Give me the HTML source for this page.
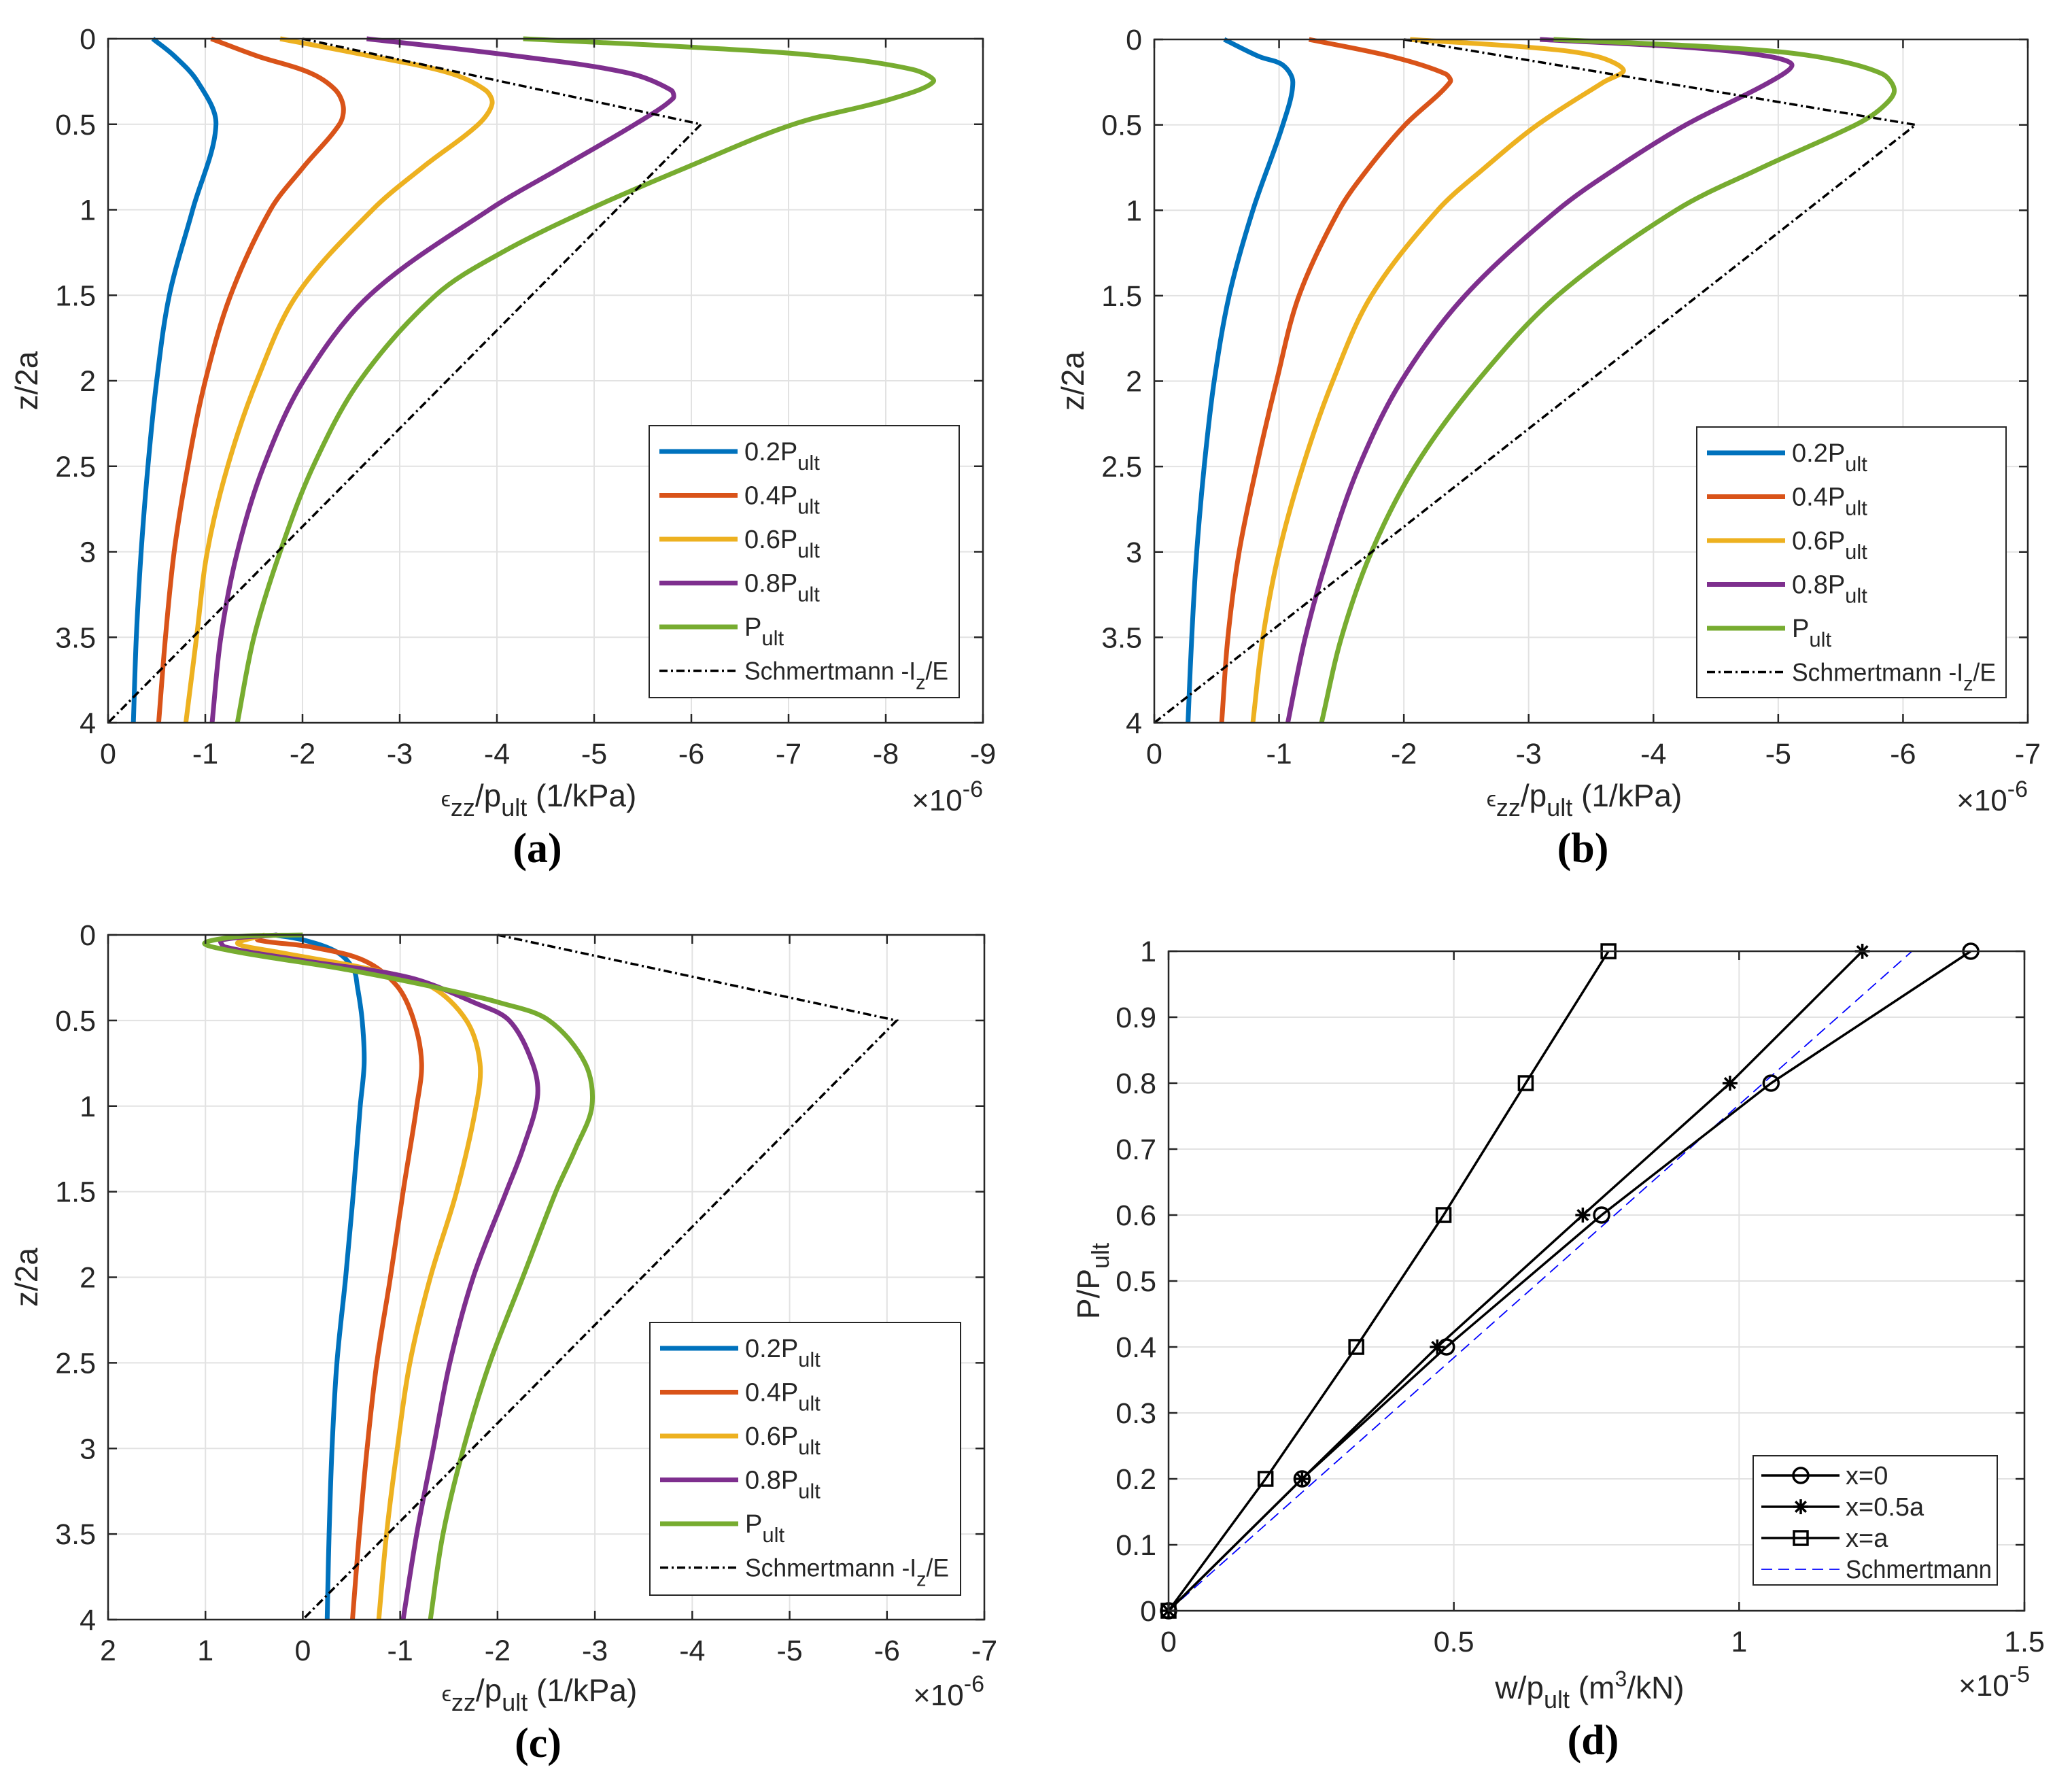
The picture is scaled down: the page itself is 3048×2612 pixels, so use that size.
<!DOCTYPE html>
<html><head><meta charset="utf-8"><style>
html,body{margin:0;padding:0;background:#fff}
svg{display:block}
text{font-family:"Liberation Sans",sans-serif;fill:#262626}
</style></head><body>
<svg id="fig" xmlns="http://www.w3.org/2000/svg" width="3048" height="2612" viewBox="0 0 3048 2612"></svg>
<script>
// ---------- data ----------
const zTicks = [0,0.5,1,1.5,2,2.5,3,3.5,4];
const seriesNames = ["0.2P","0.4P","0.6P","0.8P","P"];
const seriesColors = ["#0072BD","#D95319","#EDB120","#7E2F8E","#77AC30"];
const schmZ = [0,0.5,4];
const schmX = [-2.0,-6.1,0];

// panel a
const aZ = [[0,0.1,0.25,0.5,1,1.5,2,2.5,3,3.5,4],
            [0,0.1,0.2,0.3,0.4,0.5,0.75,1,1.5,2,2.5,3,3.5,4],
            [0,0.1,0.2,0.3,0.38,0.5,0.75,1,1.5,2,2.5,3,3.5,4],
            [0,0.1,0.2,0.3,0.35,0.5,0.75,1,1.5,2,2.5,3,3.5,4],
            [0,0.05,0.1,0.18,0.25,0.35,0.5,0.75,1,1.25,1.5,2,2.5,3,3.5,4]];
const aX = [[-0.46,-0.68,-0.92,-1.11,-0.87,-0.63,-0.50,-0.41,-0.34,-0.29,-0.26],
            [-1.06,-1.53,-2.08,-2.34,-2.42,-2.38,-2.01,-1.67,-1.26,-1.0,-0.82,-0.68,-0.59,-0.52],
            [-1.77,-2.69,-3.51,-3.88,-3.95,-3.81,-3.24,-2.72,-1.94,-1.53,-1.23,-1.02,-0.91,-0.80],
            [-2.66,-4.19,-5.35,-5.79,-5.81,-5.42,-4.67,-3.92,-2.69,-2.01,-1.60,-1.33,-1.16,-1.07],
            [-4.27,-6.03,-7.32,-8.28,-8.49,-8.07,-7.05,-5.96,-4.94,-4.05,-3.37,-2.59,-2.11,-1.77,-1.50,-1.33]];
const aXTicks = [0,-1,-2,-3,-4,-5,-6,-7,-8,-9];

// panel b
const bZ = [[0,0.1,0.15,0.25,0.5,1,1.5,2,2.5,3,3.5,4],
            [0,0.1,0.2,0.25,0.5,0.75,1,1.5,2,2.5,3,3.5,4],
            [0,0.05,0.1,0.18,0.25,0.5,0.75,1,1.5,2,2.5,3,3.5,4],
            [0,0.05,0.1,0.15,0.25,0.5,0.75,1,1.5,2,2.5,3,3.5,4],
            [0,0.05,0.1,0.2,0.3,0.4,0.5,0.75,1,1.5,2,2.5,3,3.5,4]];
const bX = [[-0.56,-0.84,-1.03,-1.11,-1.03,-0.79,-0.60,-0.48,-0.40,-0.34,-0.30,-0.27],
            [-1.24,-1.90,-2.33,-2.37,-2.01,-1.72,-1.48,-1.16,-0.98,-0.82,-0.68,-0.59,-0.54],
            [-2.05,-3.07,-3.55,-3.76,-3.60,-3.07,-2.65,-2.27,-1.74,-1.43,-1.19,-1.00,-0.87,-0.79],
            [-3.09,-4.34,-4.93,-5.11,-4.93,-4.26,-3.71,-3.23,-2.49,-1.98,-1.64,-1.40,-1.21,-1.07],
            [-3.20,-4.61,-5.30,-5.83,-5.93,-5.83,-5.62,-4.87,-4.18,-3.23,-2.59,-2.09,-1.74,-1.50,-1.34]];
const bXTicks = [0,-1,-2,-3,-4,-5,-6,-7];

// panel c
const cZ = [[0,0.03,0.1,0.2,0.3,0.5,0.75,1,1.5,2,2.5,3,3.5,4],
            [0,0.03,0.07,0.15,0.3,0.5,0.75,1,1.5,2,2.5,3,3.5,4],
            [0,0.05,0.1,0.2,0.3,0.5,0.75,1,1.5,2,2.5,3,3.5,4],
            [0,0.03,0.07,0.15,0.25,0.4,0.5,0.75,0.95,1.25,1.5,2,2.5,3,3.5,4],
            [0,0.01,0.05,0.1,0.2,0.3,0.4,0.5,0.75,1,1.25,1.5,2,2.5,3,3.5,4]];
const cX = [[0.29,-0.01,-0.35,-0.52,-0.56,-0.61,-0.63,-0.59,-0.52,-0.44,-0.35,-0.30,-0.27,-0.25],
            [0.48,0.46,-0.08,-0.63,-0.97,-1.14,-1.22,-1.17,-1.03,-0.90,-0.76,-0.66,-0.58,-0.51],
            [0.39,0.67,0.26,-0.69,-1.31,-1.68,-1.82,-1.78,-1.58,-1.31,-1.10,-0.97,-0.86,-0.78],
            [0.26,0.84,0.80,-0.01,-1.10,-1.78,-2.12,-2.36,-2.41,-2.26,-2.09,-1.75,-1.51,-1.34,-1.17,-1.03],
            [0,0.67,1.01,0.67,-0.42,-1.31,-2.05,-2.53,-2.90,-2.97,-2.80,-2.60,-2.26,-1.92,-1.65,-1.44,-1.31]];
const cXTicks = [2,1,0,-1,-2,-3,-4,-5,-6,-7];

// panel d
const dLoad = [0,0.2,0.4,0.6,0.8,1.0];
const dCenter = [0,0.234,0.487,0.759,1.056,1.406];
const dHalf = [0,0.234,0.471,0.726,0.984,1.216];
const dEdge = [0,0.170,0.329,0.482,0.626,0.771];
const dSchmW = [0,1.303];
const dSchmP = [0,1.0];
const dXTicks = [0,0.5,1,1.5];
const dYTicks = [0,0.1,0.2,0.3,0.4,0.5,0.6,0.7,0.8,0.9,1];

// ---------- helpers ----------
const NS = "http://www.w3.org/2000/svg";
const svg = document.getElementById('fig');
function mk(tag, attrs, parent){
  const e = document.createElementNS(NS, tag);
  for (const k in attrs) e.setAttribute(k, attrs[k]);
  (parent||svg).appendChild(e);
  return e;
}
function lin(d0,d1,r0,r1){ return v => r0 + (v-d0)/(d1-d0)*(r1-r0); }
// centripetal-ish smoothing via tension on neighbouring points
function smoothPath(pts){
  let d = "M"+pts[0][0].toFixed(1)+","+pts[0][1].toFixed(1);
  for (let i=0;i<pts.length-1;i++){
    const p0=pts[Math.max(0,i-1)], p1=pts[i], p2=pts[i+1], p3=pts[Math.min(pts.length-1,i+2)];
    const d01=Math.hypot(p1[0]-p0[0],p1[1]-p0[1])||1, d12=Math.hypot(p2[0]-p1[0],p2[1]-p1[1])||1, d23=Math.hypot(p3[0]-p2[0],p3[1]-p2[1])||1;
    const s1=d12/(d01+d12)/3*2, s2=d12/(d12+d23)/3*2;
    const c1=[p1[0]+(p2[0]-p0[0])*s1/2, p1[1]+(p2[1]-p0[1])*s1/2];
    const c2=[p2[0]-(p3[0]-p1[0])*s2/2, p2[1]-(p3[1]-p1[1])*s2/2];
    d += " C"+c1[0].toFixed(1)+","+c1[1].toFixed(1)+" "+c2[0].toFixed(1)+","+c2[1].toFixed(1)+" "+p2[0].toFixed(1)+","+p2[1].toFixed(1);
  }
  return d;
}
function fmt(v){ return (Math.round(v*10)/10).toString(); }

function axesFrame(g, box, xs, ys, xt, yt){
  xt.forEach(v=>{ const x=xs(v); if (x>box.L+1 && x<box.R-1){
    const l=mk('line',{x1:x,y1:box.T,x2:x,y2:box.B,stroke:'#e2e2e2','stroke-width':2},g);
      }});
  yt.forEach(v=>{ const y=ys(v); if (y>box.T+1 && y<box.B-1){
    const l=mk('line',{x1:box.L,y1:y,x2:box.R,y2:y,stroke:'#e2e2e2','stroke-width':2},g);
      }});
}
function axesBox(g, box, xs, ys, xt, yt, xlab, ylab){
  const r=mk('rect',{x:box.L,y:box.T,width:box.R-box.L,height:box.B-box.T,fill:'none',stroke:'#262626','stroke-width':2.5},g);
   
  xt.forEach(v=>{ const x=xs(v);
    mk('line',{x1:x,y1:box.B,x2:x,y2:box.B-13,stroke:'#262626','stroke-width':2.5},g);
    mk('line',{x1:x,y1:box.T,x2:x,y2:box.T+13,stroke:'#262626','stroke-width':2.5},g);
    const t=mk('text',{x:x,y:box.B+60,'font-size':43,'text-anchor':'middle'},g);
     
    t.textContent=xlab(v);
  });
  yt.forEach(v=>{ const y=ys(v);
    mk('line',{x1:box.L,y1:y,x2:box.L+13,y2:y,stroke:'#262626','stroke-width':2.5},g);
    mk('line',{x1:box.R,y1:y,x2:box.R-13,y2:y,stroke:'#262626','stroke-width':2.5},g);
    const t=mk('text',{x:box.L-18,y:y+15,'font-size':43,'text-anchor':'end'},g);
     
    t.textContent=ylab(v);
  });
}

function strainPanel(id, box, xdom, xt, Zs, Xs, xlabelY, legendBox){
  const g=mk('g',{});
   
  const xs=lin(xdom[0],xdom[1],box.L,box.R);
  const ys=lin(0,4,box.T,box.B);
  axesFrame(g,box,xs,ys,xt,zTicks);
  Zs.forEach((zarr,i)=>{
    const pts=zarr.map((z,j)=>[xs(Xs[i][j]),ys(z)]);
    const p=mk('path',{d:smoothPath(pts),fill:'none',stroke:seriesColors[i],'stroke-width':7,'stroke-linejoin':'round','stroke-linecap':'butt'},g);
     
  });
  const sp=schmZ.map((z,j)=>xs(schmX[j]).toFixed(1)+","+ys(z).toFixed(1)).join(" ");
  const sl=mk('polyline',{points:sp,fill:'none',stroke:'#000','stroke-width':3.5,'stroke-dasharray':'12,5,3,5'},g);
   
  axesBox(g,box,xs,ys,xt,zTicks,fmt,fmt);
  const yl=mk('text',{x:0,y:0,'font-size':46,'text-anchor':'middle',transform:'translate('+(box.L-104)+','+((box.T+box.B)/2)+') rotate(-90)'},g);
   
  yl.textContent='z/2a';
  const xl=mk('text',{x:(box.L+box.R)/2-10,y:xlabelY,'font-size':46,'text-anchor':'middle'},g);
   
  const e=mk('tspan',{'font-size':32},xl); e.textContent='ϵ';
  const e2=mk('tspan',{dy:14,'font-size':36},xl); e2.textContent='zz';
  const e3=mk('tspan',{dy:-14},xl); e3.textContent='/p';
  const e4=mk('tspan',{dy:14,'font-size':36},xl); e4.textContent='ult';
  const e5=mk('tspan',{dy:-14},xl); e5.textContent=' (1/kPa)';
  const ex=mk('text',{x:box.R,y:xlabelY+6,'font-size':44,'text-anchor':'end'},g);
   
  const x1=mk('tspan',{},ex); x1.textContent='×10';
  const x2=mk('tspan',{dy:-20,'font-size':34},ex); x2.textContent='-6';
  const pl=mk('text',{x:(box.L+box.R)/2-12,y:xlabelY+82,'font-size':62,'font-weight':'bold','text-anchor':'middle',style:'font-family:"Liberation Serif",serif;fill:#000'},g);
   
  pl.textContent='('+id+')';
  const lg=mk('g',{},g);  
  mk('rect',{x:legendBox.x,y:legendBox.y,width:legendBox.w,height:legendBox.h,fill:'#fff',stroke:'#262626','stroke-width':2},lg);
  const sp2=64.5;
  for (let i=0;i<6;i++){
    const y=legendBox.y+38+i*sp2;
    const eg=mk('g',{},lg);  
    if (i<5){
      mk('line',{x1:legendBox.x+15,y1:y,x2:legendBox.x+130,y2:y,stroke:seriesColors[i],'stroke-width':7},eg);
      const t=mk('text',{x:legendBox.x+140,y:y+13,'font-size':38},eg);
      const a=mk('tspan',{},t); a.textContent=seriesNames[i];
      const b=mk('tspan',{dy:14,'font-size':31},t); b.textContent='ult';
    } else {
      mk('line',{x1:legendBox.x+15,y1:y,x2:legendBox.x+130,y2:y,stroke:'#000','stroke-width':3.5,'stroke-dasharray':'12,5,3,5'},eg);
      const t=mk('text',{x:legendBox.x+140,y:y+13,'font-size':37,textLength:300,lengthAdjust:'spacingAndGlyphs'},eg);
      const a=mk('tspan',{},t); a.textContent='Schmertmann -I';
      const b=mk('tspan',{dy:14,'font-size':30},t); b.textContent='z';
      const c=mk('tspan',{dy:-14},t); c.textContent='/E';
    }
  }
}

strainPanel('a',{L:159,R:1446,T:57,B:1063},[0,-9],aXTicks,aZ,aX,1186,{x:955,y:626,w:456,h:400});
strainPanel('b',{L:1698,R:2983,T:58,B:1063},[0,-7],bXTicks,bZ,bX,1186,{x:2496,y:628,w:455,h:398});
strainPanel('c',{L:159,R:1448,T:1375,B:2382},[2,-7],cXTicks,cZ,cX,2502,{x:956,y:1945,w:457,h:401});

// panel d
(function(){
  const box={L:1719,R:2978,T:1399,B:2369};
  const g=mk('g',{});
   
  const xs=lin(0,1.5,box.L,box.R), ys=lin(0,1,box.B,box.T);
  axesFrame(g,box,xs,ys,dXTicks,dYTicks);
  const sch=mk('line',{x1:xs(dSchmW[0]),y1:ys(dSchmP[0]),x2:xs(dSchmW[1]),y2:ys(dSchmP[1]),stroke:'#0000ff','stroke-width':1.8,'stroke-dasharray':'16,9'},g);
   
  function marker(parent,type,x,y){
    if (type==='o') mk('circle',{cx:x,cy:y,r:11,fill:'none',stroke:'#000','stroke-width':3.5},parent);
    else if (type==='s') mk('rect',{x:x-10,y:y-10,width:20,height:20,fill:'none',stroke:'#000','stroke-width':3.5},parent);
    else { for (let a=0;a<4;a++){ const an=a*Math.PI/4; mk('line',{x1:x-11*Math.cos(an),y1:y-11*Math.sin(an),x2:x+11*Math.cos(an),y2:y+11*Math.sin(an),stroke:'#000','stroke-width':3.5},parent);} }
  }
  const sets=[[dCenter,'o','series-x0'],[dHalf,'*','series-x05a'],[dEdge,'s','series-xa']];
  sets.forEach(s=>{
    const sg=mk('g',{},g);  
    mk('polyline',{points:s[0].map((w,i)=>xs(w).toFixed(1)+','+ys(dLoad[i]).toFixed(1)).join(' '),fill:'none',stroke:'#000','stroke-width':3.5},sg);
    s[0].forEach((w,i)=>marker(sg,s[1],xs(w),ys(dLoad[i])));
  });
  axesBox(g,box,xs,ys,dXTicks,dYTicks,v=>v.toString(),v=>v.toString());
  const yl=mk('text',{x:0,y:0,'font-size':46,'text-anchor':'middle',transform:'translate('+(box.L-102)+','+((box.T+box.B)/2)+') rotate(-90)'},g);
   
  const ya=mk('tspan',{},yl); ya.textContent='P/P';
  const yb=mk('tspan',{dy:14,'font-size':36},yl); yb.textContent='ult';
  const xl=mk('text',{x:(box.L+box.R)/2-10,y:2498,'font-size':46,'text-anchor':'middle'},g);
   
  const t1=mk('tspan',{},xl); t1.textContent='w/p';
  const t2=mk('tspan',{dy:14,'font-size':36},xl); t2.textContent='ult';
  const t3=mk('tspan',{dy:-14},xl); t3.textContent=' (m';
  const t4=mk('tspan',{dy:-18,'font-size':32},xl); t4.textContent='3';
  const t5=mk('tspan',{dy:18},xl); t5.textContent='/kN)';
  const ex=mk('text',{x:box.R+8,y:2494,'font-size':44,'text-anchor':'end'},g);
   
  const x1=mk('tspan',{},ex); x1.textContent='×10';
  const x2=mk('tspan',{dy:-20,'font-size':34},ex); x2.textContent='-5';
  const pl=mk('text',{x:(box.L+box.R)/2-5,y:2580,'font-size':62,'font-weight':'bold','text-anchor':'middle',style:'font-family:"Liberation Serif",serif;fill:#000'},g);
   
  pl.textContent='(d)';
  const L={x:2579,y:2141,w:359,h:190};
  const lg=mk('g',{},g);  
  mk('rect',{x:L.x,y:L.y,width:L.w,height:L.h,fill:'#fff',stroke:'#262626','stroke-width':2},lg);
  const labels=['x=0','x=0.5a','x=a','Schmertmann'], types=['o','*','s',null];
  labels.forEach((lab,i)=>{
    const y=L.y+29+i*46;
    const eg=mk('g',{},lg);  
    if (types[i]){
      mk('line',{x1:L.x+12,y1:y,x2:L.x+127,y2:y,stroke:'#000','stroke-width':3.5},eg);
      marker(eg,types[i],L.x+70,y);
    } else {
      mk('line',{x1:L.x+12,y1:y,x2:L.x+127,y2:y,stroke:'#0000ff','stroke-width':1.8,'stroke-dasharray':'16,9'},eg);
    }
    const attrs={x:L.x+136,y:y+13,'font-size':38};
    if (i===3){ attrs.textLength=215; attrs.lengthAdjust='spacingAndGlyphs'; }
    const t=mk('text',attrs,eg); t.textContent=lab;
  });
})();
</script>
</body></html>
